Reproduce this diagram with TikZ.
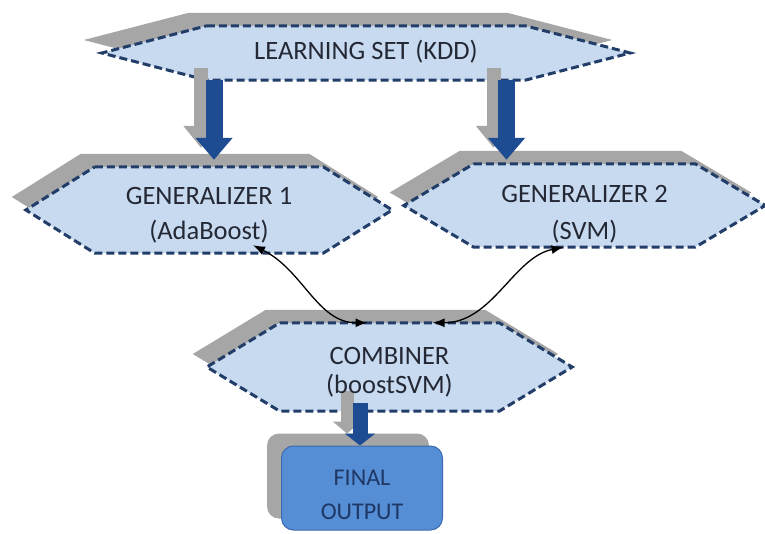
\documentclass[tikz,border=0pt]{standalone}
\usepackage{fontspec}
\setmainfont{Carlito}
\usetikzlibrary{arrows.meta,positioning,calc}

\definecolor{hexblue}{RGB}{200,218,240}
\definecolor{hexline}{RGB}{34,62,104}
\definecolor{shadegray}{RGB}{166,166,166}
\definecolor{arrowblue}{RGB}{30,76,146}
\definecolor{outblue}{RGB}{86,142,214}
\definecolor{outline}{RGB}{58,106,176}
\definecolor{inktext}{RGB}{35,40,52}
\definecolor{outtext}{RGB}{30,55,100}

\pgfdeclarelayer{shade}
\pgfdeclarelayer{back}
\pgfsetlayers{shade,back,main}

\tikzset{
  boxtext/.style={font=\fontsize{26.5}{35}\selectfont, text=inktext, align=center, inner sep=0pt},
  hexbox/.style={inner sep=0pt},
  hexbody/.style={fill=hexblue, draw=hexline, line width=3pt, dash pattern=on 8pt off 4pt},
  hexshade/.style={fill=shadegray},
  blockarrow/.style={draw=arrowblue, line width=17pt, -{Triangle[length=22pt,width=36pt]}},
  blockshade/.style={draw=shadegray, line width=14pt, -{Triangle[length=22pt,width=34pt]}},
  link/.style={black, line width=1.3pt, {Latex[length=12pt,width=9pt]}-{Latex[length=12pt,width=9pt]}},
}

% hexagon round a node: #1 path style, #2 node, #3 size of the pointed ends
\newcommand{\hexoutline}[3]{%
  \path[#1] (#2.north west) -- (#2.north east) -- ([xshift=#3]#2.east)
    -- (#2.south east) -- (#2.south west) -- ([xshift=-#3]#2.west) -- cycle;}

\begin{document}
\begin{tikzpicture}[x=1pt,y=-1pt]
\useasboundingbox (0,0) rectangle (765,534);

% blocks
\node[hexbox, minimum width=318pt, minimum height=54pt] (learn) at (366,53) {};
\node[hexbox, minimum width=228pt, minimum height=86pt] (gen1) at (209,210) {};
\node[hexbox, minimum width=221pt, minimum height=83pt] (gen2) at (584.5,205.5) {};
\node[hexbox, minimum width=219pt, minimum height=88pt] (comb) at (389.5,367) {};
\node[boxtext, draw=outline, line width=1pt, fill=outblue, rounded corners=12pt,
      minimum width=161pt, minimum height=84pt] (final) at (362,488) {};

% texts
\node[boxtext] (learn-text) at ($(learn)+(0,-1)$) {LEARNING SET (KDD)};
\node[boxtext] (gen1-text) at ($(gen1)+(0,5)$) {GENERALIZER 1\\(AdaBoost)};
\node[boxtext, font=\fontsize{26.5}{37}\selectfont] (gen2-text) at ($(gen2)+(0,9)$) {GENERALIZER 2\\(SVM)};
\node[boxtext, font=\fontsize{26.5}{29}\selectfont] (comb-text) at ($(comb)+(0,5)$) {COMBINER\\(boostSVM)};
\node[boxtext, font=\fontsize{24}{34}\selectfont, text=outtext] (final-text) at ($(final)+(0,7)$) {FINAL\\OUTPUT};

% shadows
\begin{pgfonlayer}{shade}
  \hexoutline{hexshade, transform canvas={xshift=-18pt,yshift=13pt}}{learn}{105pt}
  \hexoutline{hexshade, transform canvas={xshift=-14pt,yshift=13pt}}{gen1}{69pt}
  \hexoutline{hexshade, transform canvas={xshift=-14pt,yshift=13pt}}{gen2}{70pt}
  \hexoutline{hexshade, transform canvas={xshift=-14pt,yshift=13pt}}{comb}{73pt}
  \fill[shadegray, rounded corners=12pt, transform canvas={xshift=-14pt,yshift=12pt}]
    (final.north west) rectangle (final.south east);
\end{pgfonlayer}

\begin{pgfonlayer}{back}
  \hexoutline{hexbody}{learn}{105pt}
  \hexoutline{hexbody}{gen1}{69pt}
  \hexoutline{hexbody}{gen2}{70pt}
  \hexoutline{hexbody}{comb}{73pt}

  % block arrows
  \coordinate (tipL) at ($(gen1.north)+(5,-7)$);
  \coordinate (tipR) at ($(gen2.north)+(-78,-4)$);
  \coordinate (tipC) at ($(final.north)+(-2,0)$);
  \begin{scope}[transform canvas={xshift=-13pt,yshift=12pt}]
    \draw[blockshade] (tipL |- learn.south) -- (tipL);
    \draw[blockshade] (tipR |- learn.south) -- (tipR);
    \draw[blockshade, line width=13pt, -{Triangle[length=12pt,width=28pt]}]
      ($(tipC |- comb.south)+(0,-8)$) -- (tipC);
  \end{scope}
  \draw[blockarrow] (tipL |- learn.south) -- (tipL);
  \draw[blockarrow] (tipR |- learn.south) -- (tipR);
  \draw[blockarrow, line width=15pt, -{Triangle[length=12pt,width=30pt]}]
    ($(tipC |- comb.south)+(0,-8)$) -- (tipC);
\end{pgfonlayer}

% links between the generalizers and the combiner
\draw[link] ($(gen1.south)+(44,-8)$) .. controls +(50,25) and +(-50,0) .. ($(comb.north)+(-22,0)$);
\draw[link] ($(comb.north)+(43,0)$) .. controls +(60,0) and +(-50,10) .. ($(gen2.south)+(-21,0)$);
\end{tikzpicture}
\end{document}
